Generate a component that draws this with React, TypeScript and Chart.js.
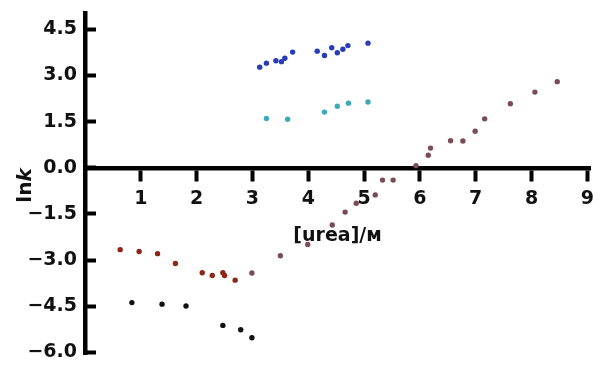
import React, { useEffect, useRef } from "react";
import { Chart, registerables } from "chart.js";

Chart.register(...registerables);

// ---- data ----
const blueX = [3.13, 3.25, 3.42, 3.52, 3.58, 3.72, 4.16, 4.29, 4.42, 4.52, 4.62, 4.71, 5.07];
const blueY = [3.27, 3.40, 3.48, 3.45, 3.56, 3.76, 3.79, 3.65, 3.90, 3.74, 3.85, 3.97, 4.05];

const cyanX = [3.25, 3.63, 4.29, 4.52, 4.72, 5.07];
const cyanY = [1.60, 1.58, 1.81, 2.00, 2.10, 2.14];

const redX = [0.63, 0.97, 1.30, 1.62, 2.10, 2.28, 2.47, 2.50, 2.69];
const redY = [-2.66, -2.72, -2.79, -3.11, -3.41, -3.50, -3.41, -3.50, -3.65];

const mauveX = [2.99, 3.50, 3.99, 4.43, 4.66, 4.86, 5.20, 5.33, 5.52, 5.93, 6.15, 6.19, 6.55, 6.77, 6.99, 7.16, 7.62, 8.06, 8.46];
const mauveY = [-3.42, -2.86, -2.49, -1.86, -1.44, -1.15, -0.88, -0.40, -0.40, 0.07, 0.41, 0.64, 0.88, 0.87, 1.19, 1.59, 2.08, 2.46, 2.80];

const blackX = [0.84, 1.38, 1.81, 2.47, 2.79, 2.99];
const blackY = [-4.38, -4.43, -4.49, -5.12, -5.26, -5.52];

const xTicks = [1, 2, 3, 4, 5, 6, 7, 8, 9];
const yTicks = [-6.0, -4.5, -3.0, -1.5, 0.0, 1.5, 3.0, 4.5];

const xTitle = "[urea]/\u1D0D";
const yTitleMain = "ln";
const yTitleItalic = "k";

const FONT = "'DejaVu Sans', 'Liberation Sans', sans-serif";

function pts(xs: number[], ys: number[]) {
  return xs.map((x, i) => ({ x, y: ys[i] }));
}

const yTitlePlugin = {
  id: "yTitle",
  afterDraw(chart: any) {
    const ctx = chart.ctx;
    const area = chart.chartArea;
    ctx.save();
    const cy = (area.top + area.bottom) / 2 + 2;
    ctx.translate(31, cy);
    ctx.rotate(-Math.PI / 2);
    ctx.fillStyle = "#111";
    ctx.textBaseline = "alphabetic";
    ctx.font = `bold 20px ${FONT}`;
    const w1 = ctx.measureText(yTitleMain).width;
    ctx.font = `italic bold 20px ${FONT}`;
    const w2 = ctx.measureText(yTitleItalic).width;
    const start = -(w1 + w2) / 2;
    ctx.font = `bold 20px ${FONT}`;
    ctx.textAlign = "left";
    ctx.fillText(yTitleMain, start, 0);
    ctx.font = `italic bold 20px ${FONT}`;
    ctx.fillText(yTitleItalic, start + w1, 0);
    ctx.restore();
  },
};

export default function App() {
  const ref = useRef<HTMLCanvasElement | null>(null);

  useEffect(() => {
    document.body.style.margin = "0";
    if (!ref.current) return;
    const mk = (label: string, xs: number[], ys: number[], color: string) => ({
      label,
      data: pts(xs, ys),
      backgroundColor: color,
      borderColor: color,
      pointRadius: 2.7,
      pointBorderWidth: 0,
      showLine: false,
    });
    const chart = new Chart(ref.current, {
      type: "scatter",
      data: {
        datasets: [
          mk("blue", blueX, blueY, "#2a3db8"),
          mk("cyan", cyanX, cyanY, "#3aaabb"),
          mk("red", redX, redY, "#8e2616"),
          mk("mauve", mauveX, mauveY, "#7a4c58"),
          mk("black", blackX, blackY, "#111111"),
        ],
      },
      options: {
        animation: false,
        responsive: true,
        maintainAspectRatio: false,
        layout: { padding: { left: 0, top: 13, right: 5, bottom: 11 } },
        plugins: { legend: { display: false }, tooltip: { enabled: false } },
        scales: {
          x: {
            type: "linear",
            min: 0,
            max: 9.05,
            position: { y: 0 } as any,
            afterBuildTicks: (s: any) => {
              s.ticks = xTicks.map((v) => ({ value: v }));
            },
            grid: {
              display: true,
              drawOnChartArea: false,
              drawTicks: true,
              tickLength: 11,
              tickWidth: 4,
              tickColor: "#000",
            },
            border: { display: true, width: 4.5, color: "#000" },
            ticks: {
              color: "#111",
              font: { family: FONT, size: 19, weight: "bold" },
              padding: 9,
              maxRotation: 0,
              autoSkip: false,
            },
            title: {
              display: true,
              text: xTitle,
              color: "#111",
              font: { family: FONT, size: 19, weight: "bold" },
              padding: { top: 5, bottom: 0 },
            },
          },
          y: {
            type: "linear",
            min: -6.05,
            max: 5.03,
            afterBuildTicks: (s: any) => {
              s.ticks = yTicks.map((v) => ({ value: v }));
            },
            afterFit: (s: any) => {
              s.width = 85;
              s.paddingTop = 10;
              s.paddingBottom = 10;
            },
            grid: {
              display: true,
              drawOnChartArea: false,
              drawTicks: true,
              tickLength: -11,
              tickWidth: 4,
              tickColor: "#000",
            },
            border: { display: true, width: 4.5, color: "#000" },
            ticks: {
              color: "#111",
              font: { family: FONT, size: 19, weight: "bold" },
              padding: 19,
              autoSkip: false,
              callback: (v: any) => {
                const n = Number(v);
                const s = Math.abs(n).toFixed(1);
                return n < 0 ? "\u2212" + s : s;
              },
            },
          },
        },
      },
      plugins: [yTitlePlugin],
    });
    return () => chart.destroy();
  }, []);

  return (
    <div style={{ width: 603, height: 365, position: "relative" }}>
      <canvas ref={ref} />
    </div>
  );
}
